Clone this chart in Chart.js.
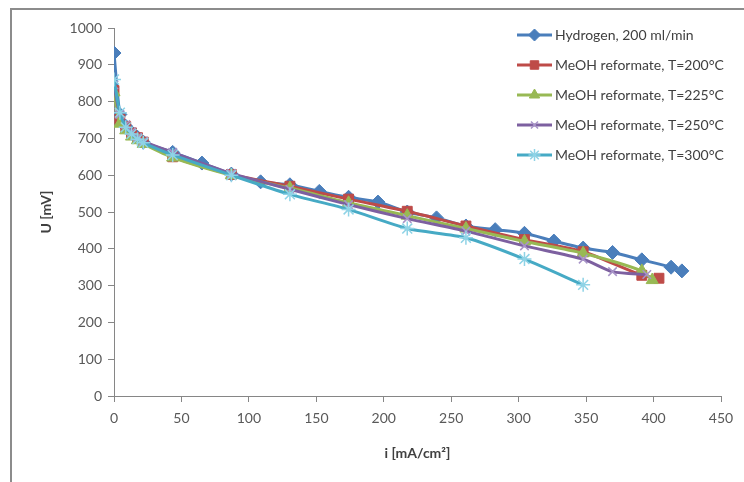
<!DOCTYPE html>
<html>
<head>
<meta charset="utf-8">
<script src="https://cdn.jsdelivr.net/npm/chart.js@4/dist/chart.umd.min.js"></script>
<style>
  html, body { margin: 0; padding: 0; background: #fff; overflow: hidden; }
  #wrap { position: relative; width: 744px; height: 482px; }
  #frame { position: absolute; left: 10px; top: 8px; width: 800px; height: 520px; border: 2px solid #8c8c8c; box-sizing: border-box; }
  canvas { position: absolute; left: 0; top: 0; }
</style>
</head>
<body>
<div id="wrap">
  <div id="frame"></div>
  <canvas id="chart" width="744" height="482"></canvas>
</div>
<script>
// current density i [mA/cm2] and voltage U [mV]
const iH2 = [0, 4.35, 8.7, 13, 17.4, 21.7, 43.5, 65.2, 87, 108.7, 130.4, 152.2, 173.9, 195.7, 217.4, 239.1, 260.9, 282.6, 304.3, 326.1, 347.8, 369.6, 391.3, 413, 421];
const uH2 = [932, 765, 733, 716, 703, 690, 662, 633, 603, 582, 574, 556, 540, 527, 500, 484, 462, 452, 442, 421, 402, 390, 370, 350, 340];

const i200 = [0, 4.35, 8.7, 13, 17.4, 21.7, 43.5, 87, 130.4, 173.9, 217.4, 260.9, 304.3, 347.8, 391.3, 404];
const u200 = [830, 752, 732, 715, 702, 690, 650, 602, 570, 535, 502, 462, 425, 392, 328, 320];

const i225 = [0, 4.35, 8.7, 13, 17.4, 21.7, 43.5, 87, 130.4, 173.9, 217.4, 260.9, 304.3, 347.8, 391.3, 399];
const u225 = [825, 740, 722, 705, 695, 685, 648, 600, 565, 525, 490, 455, 420, 388, 340, 315];

const i250 = [0, 4.35, 8.7, 13, 17.4, 21.7, 43.5, 87, 130.4, 173.9, 217.4, 260.9, 304.3, 347.8, 369.6, 395];
const u250 = [845, 765, 738, 718, 703, 692, 662, 605, 562, 520, 482, 448, 408, 372, 338, 330];

const i300 = [0, 4.35, 8.7, 13, 17.4, 21.7, 43.5, 87, 130.4, 173.9, 217.4, 260.9, 304.3, 347.8];
const u300 = [860, 770, 730, 712, 698, 688, 655, 600, 548, 507, 455, 430, 372, 302];

const seriesNames = ["Hydrogen, 200 ml/min", "MeOH reformate, T=200°C", "MeOH reformate, T=225°C", "MeOH reformate, T=250°C", "MeOH reformate, T=300°C"];
const xTicks = [0, 50, 100, 150, 200, 250, 300, 350, 400, 450];
const yTicks = [0, 100, 200, 300, 400, 500, 600, 700, 800, 900, 1000];

const FONT = "Lato, 'Open Sans', sans-serif";

function pts(xs, ys) {
  return xs.map((x, k) => ({ x: x, y: ys[k] }));
}

const styles = [
  { color: "#4A7EBB", mark: "#4A7EBB", style: "rectRot", r: 7, bw: 1 },
  { color: "#BE4B48", mark: "#BE4B48", style: "rect", r: 7, bw: 1 },
  { color: "#98B954", mark: "#98B954", style: "triangle", r: 7, bw: 1 },
  { color: "#7D60A0", mark: "#A894C8", style: "crossRot", r: 6, bw: 1.5 },
  { color: "#46AAC5", mark: "#8FD3E6", style: "star", r: 7, bw: 1.5 }
];

const allData = [pts(iH2, uH2), pts(i200, u200), pts(i225, u225), pts(i250, u250), pts(i300, u300)];

const datasets = allData.map((d, k) => ({
  label: seriesNames[k],
  data: d,
  showLine: true,
  borderColor: styles[k].color,
  backgroundColor: styles[k].mark,
  pointBorderColor: styles[k].mark,
  pointBackgroundColor: styles[k].mark,
  pointStyle: styles[k].style,
  pointRadius: styles[k].r,
  pointBorderWidth: styles[k].bw,
  borderWidth: 3,
  tension: 0.25,
  order: 5 - k
}));

// legend drawn inside the plot, top right
const legendBox = {
  id: "legendBox",
  afterDraw(chart) {
    const ctx = chart.ctx;
    ctx.save();
    ctx.font = "14px " + FONT;
    ctx.textBaseline = "middle";
    seriesNames.forEach((name, k) => {
      const y = 35 + k * 30;
      const s = styles[k];
      ctx.strokeStyle = s.color;
      ctx.lineWidth = 3;
      ctx.beginPath();
      ctx.moveTo(517, y);
      ctx.lineTo(552, y);
      ctx.stroke();
      ctx.strokeStyle = s.mark;
      ctx.fillStyle = s.mark;
      ctx.lineWidth = s.bw;
      Chart.helpers.drawPoint(ctx, { pointStyle: s.style, radius: s.r - 1, borderWidth: s.bw, rotation: 0 }, 534.5, y);
      ctx.fillStyle = "#404040";
      ctx.fillText(name, 555, y);
    });
    ctx.restore();
  }
};

new Chart(document.getElementById("chart"), {
  type: "scatter",
  data: { datasets: datasets },
  options: {
    responsive: false,
    animation: false,
    layout: { padding: { left: 38, top: 28, right: 23, bottom: 20 } },
    plugins: { legend: { display: false }, tooltip: { enabled: false } },
    scales: {
      x: {
        type: "linear",
        min: 0, max: 450,
        afterBuildTicks: (s) => { s.ticks = xTicks.map(v => ({ value: v })); },
        afterFit: (s) => { s.height = 66; },
        grid: { drawOnChartArea: false, color: "#868686", tickLength: 6, tickColor: "#868686" },
        border: { color: "#868686", width: 1 },
        ticks: { color: "#595959", font: { family: FONT, size: 14 }, padding: 8, callback: (v) => String(v) },
        title: { display: true, text: "i [mA/cm²]", color: "#404040", font: { family: FONT, size: 14, weight: "bold" }, padding: 0 }
      },
      y: {
        type: "linear",
        min: 0, max: 1000,
        afterBuildTicks: (s) => { s.ticks = yTicks.map(v => ({ value: v })); },
        afterFit: (s) => { s.width = 76; },
        grid: { drawOnChartArea: false, color: "#868686", tickLength: 6, tickColor: "#868686" },
        border: { color: "#868686", width: 1 },
        ticks: { color: "#595959", font: { family: FONT, size: 14 }, padding: 6, callback: (v) => String(v) },
        title: { display: true, text: "U [mV]", color: "#404040", font: { family: FONT, size: 14, weight: "bold" }, padding: 0 }
      }
    }
  },
  plugins: [legendBox]
});
</script>
</body>
</html>
